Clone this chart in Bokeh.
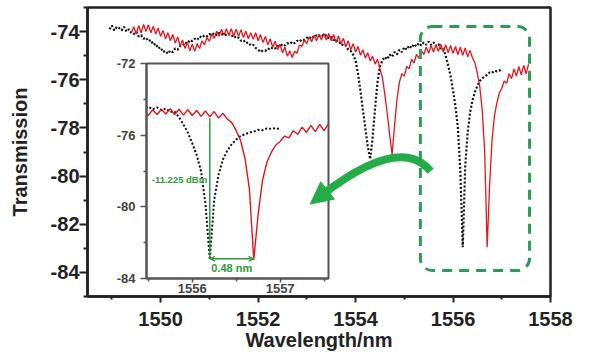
from bokeh.plotting import figure
from bokeh.models import FixedTicker, BoxAnnotation, Arrow, NormalHead, VeeHead, Range1d, Label
from bokeh.embed import file_html
from bokeh.resources import INLINE

# ---------------- data ----------------
step_nm = 0.05
red_start_nm = 1549.40
black_start_nm = 1548.95

red_dbm = [
    -74.05, -73.80, -74.10, -73.75, -74.05, -73.70, -74.00, -73.72, -74.05, -73.78,
    -74.10, -73.85, -74.20, -73.95, -74.30, -74.05, -74.38, -74.12, -74.48, -74.22,
    -74.60, -74.35, -74.70, -74.45, -74.80, -74.52, -74.82, -74.50, -74.70, -74.38,
    -74.55, -74.25, -74.40, -74.10, -74.28, -73.98, -74.20, -73.90, -74.15, -73.88,
    -74.15, -73.88, -74.18, -73.90, -74.20, -73.92, -74.25, -73.98, -74.30, -74.05,
    -74.32, -74.05, -74.38, -74.12, -74.45, -74.20, -74.55, -74.30, -74.65, -74.40,
    -74.75, -74.52, -74.88, -74.65, -75.02, -74.80, -75.08, -74.82, -74.90, -74.55,
    -74.62, -74.35, -74.50, -74.22, -74.42, -74.15, -74.38, -74.10, -74.35, -74.08,
    -74.35, -74.08, -74.38, -74.12, -74.45, -74.18, -74.52, -74.28, -74.62, -74.38,
    -74.75, -74.50, -74.85, -74.62, -74.98, -74.75, -75.10, -74.88, -75.22, -75.02,
    -75.35, -75.15, -75.55, -75.90, -76.60, -77.40, -78.30, -79.10, -77.90, -76.80,
    -76.10, -75.75, -75.85, -75.45, -75.55, -75.15, -75.30, -74.95, -75.10, -74.80,
    -74.95, -74.65, -74.90, -74.58, -74.85, -74.55, -74.82, -74.52, -74.85, -74.55,
    -74.88, -74.58, -74.90, -74.62, -74.95, -74.65, -74.98, -74.68, -75.05, -74.78,
    -75.10, -75.30, -75.75, -76.30, -77.30, -79.00, -82.95, -80.40, -78.50, -77.50,
    -76.95, -76.55, -76.35, -76.05, -76.15, -75.75, -75.95, -75.55, -75.85, -75.45,
    -75.80, -75.40, -75.75, -75.35,
]

black_dbm = [
    -73.90, -73.75, -73.95, -73.80, -73.85, -73.95, -73.80, -74.00, -73.90, -74.05,
    -74.10, -74.00, -74.20, -74.15, -74.30, -74.25, -74.40, -74.35, -74.55, -74.50,
    -74.70, -74.65, -74.85, -74.80, -74.92, -74.78, -74.85, -74.70, -74.75, -74.60,
    -74.60, -74.45, -74.50, -74.35, -74.40, -74.30, -74.35, -74.20, -74.25, -74.15,
    -74.20, -74.10, -74.15, -74.05, -74.15, -74.05, -74.12, -74.08, -74.15, -74.10,
    -74.20, -74.15, -74.28, -74.25, -74.38, -74.35, -74.48, -74.45, -74.58, -74.55,
    -74.68, -74.75, -74.85, -74.78, -74.80, -74.70, -74.75, -74.65, -74.70, -74.60,
    -74.62, -74.52, -74.58, -74.48, -74.52, -74.42, -74.48, -74.38, -74.42, -74.32,
    -74.35, -74.25, -74.30, -74.18, -74.25, -74.15, -74.20, -74.12, -74.22, -74.15,
    -74.28, -74.22, -74.35, -74.32, -74.48, -74.45, -74.60, -74.58, -74.75, -74.80,
    -74.95, -75.20, -75.75, -76.45, -77.25, -78.00, -78.75, -79.30, -78.40, -77.20,
    -76.10, -75.45, -75.20, -75.05, -75.15, -74.95, -75.05, -74.85, -74.95, -74.75,
    -74.85, -74.65, -74.75, -74.58, -74.68, -74.52, -74.62, -74.48, -74.58, -74.45,
    -74.55, -74.42, -74.55, -74.45, -74.60, -74.52, -74.70, -74.68, -75.00, -75.40,
    -75.85, -76.45, -77.10, -78.00, -79.80, -82.95, -79.60, -78.20, -77.35, -76.85,
    -76.50, -76.25, -76.05, -75.95, -75.85, -75.80, -75.70, -75.72, -75.62, -75.65,
    -75.60, -75.68,
]

wl_red = [round(red_start_nm + step_nm * i, 2) for i in range(len(red_dbm))]
wl_black = [round(black_start_nm + step_nm * i, 2) for i in range(len(black_dbm))]

x_major = [1550, 1552, 1554, 1556, 1558]
x_minor = [1549, 1551, 1553, 1555, 1557]
y_major = [-84, -82, -80, -78, -76, -74]
y_minor = [-85, -83, -81, -79, -77, -75, -73]

inset_x_major = [1556, 1557]
inset_x_minor = [1555.5, 1556.5, 1557.5]
inset_y_major = [-84, -80, -76, -72]
inset_y_minor = [-82, -78, -74]

# annotation values
dip_black_nm = 1556.20
dip_red_nm = 1556.70
top_level_dbm = -75.05
bottom_level_dbm = -82.9
depth_text = "-11.225 dBm"
shift_text = "0.48 nm"

# ---------------- styles ----------------
RED = "#e8141c"
BLACK = "#111111"
GREEN_BOX = "#2f9a55"
GREEN_ARROW = "#22ad48"
GREEN_TXT = "#2e9a3e"
FONT = "Liberation Sans"


def hyphen_labels(ticks):
    return {t: ("%g" % t) for t in ticks}


# ---------------- main figure (transparent, drawn on top of the inset) ----------------
p = figure(frame_width=463, frame_height=289,
           x_range=Range1d(1548.5, 1558), y_range=Range1d(-85, -73),
           min_border_left=87, min_border_top=7, min_border_right=24, min_border_bottom=50,
           output_backend="svg", toolbar_location=None,
           background_fill_alpha=0, border_fill_alpha=0)
p.xgrid.visible = False
p.ygrid.visible = False
p.outline_line_color = "#222222"
p.outline_line_width = 2.5

p.xaxis.ticker = FixedTicker(ticks=x_major, minor_ticks=x_minor)
p.yaxis.ticker = FixedTicker(ticks=y_major, minor_ticks=y_minor)
p.yaxis.major_label_overrides = hyphen_labels(y_major)
for ax in (p.xaxis[0], p.yaxis[0]):
    ax.axis_line_color = "#222222"
    ax.axis_line_width = 2.5
    ax.major_tick_line_color = "#222222"
    ax.minor_tick_line_color = "#222222"
    ax.major_tick_line_width = 2
    ax.minor_tick_line_width = 2
    ax.major_tick_in = 0
    ax.minor_tick_in = 0
    ax.major_label_text_font = FONT
    ax.major_label_text_font_style = "bold"
    ax.major_label_text_font_size = "20px"
    ax.major_label_text_color = "#222222"
    ax.axis_label_text_font = FONT
    ax.axis_label_text_font_style = "bold"
    ax.axis_label_text_font_size = "20px"
    ax.axis_label_text_color = "#222222"
p.xaxis.major_tick_out = 6
p.xaxis.minor_tick_out = 3
p.xaxis.major_label_standoff = 9
p.xaxis.axis_label = "Wavelength/nm"
p.xaxis.axis_label_standoff = 0
p.yaxis.major_tick_out = 8
p.yaxis.minor_tick_out = 4
p.yaxis.major_label_standoff = 0
p.yaxis.axis_label = "Transmission"
p.yaxis.axis_label_standoff = 17

p.line(wl_black, black_dbm, line_color=BLACK, line_width=2.2, line_dash="2 2")
p.line(wl_red, red_dbm, line_color=RED, line_width=1.3)

# dashed rounded box around the zoomed region
p.add_layout(BoxAnnotation(left=1555.33, right=1557.57, top=-73.79, bottom=-83.92,
                           fill_alpha=0, line_color=GREEN_BOX, line_alpha=1, line_width=3,
                           line_dash="10 7", border_radius=12))

# curved green arrow pointing to the inset
p.quadratic(x0=[1555.54], y0=[-79.80], x1=[1553.29], y1=[-80.81],
            cx=[1554.93], cy=[-78.25], line_color=GREEN_ARROW, line_width=8)
p.add_layout(Arrow(end=NormalHead(size=22, fill_color=GREEN_ARROW, line_color=GREEN_ARROW),
                   x_start=1553.31, y_start=-80.78, x_end=1553.07, y_end=-81.16,
                   line_alpha=0))
p.styles = {"position": "relative", "z-index": "2"}

# ---------------- inset (separate root, placed under the transparent main plot) ----------------
inset = figure(width=224, height=245,
               x_range=Range1d(1555.48, 1557.55), y_range=Range1d(-84, -72),
               min_border_left=36, min_border_top=8, min_border_right=6, min_border_bottom=22,
               output_backend="svg", toolbar_location=None,
               border_fill_alpha=0, background_fill_color="white")
inset.xgrid.visible = False
inset.ygrid.visible = False
inset.outline_line_color = "#555555"
inset.outline_line_width = 2
inset.xaxis.ticker = FixedTicker(ticks=inset_x_major, minor_ticks=inset_x_minor)
inset.yaxis.ticker = FixedTicker(ticks=inset_y_major, minor_ticks=inset_y_minor)
inset.yaxis.major_label_overrides = hyphen_labels(inset_y_major)
for ax in (inset.xaxis[0], inset.yaxis[0]):
    ax.axis_line_color = "#555555"
    ax.axis_line_width = 2
    ax.major_tick_line_color = "#555555"
    ax.minor_tick_line_color = "#555555"
    ax.major_tick_line_width = 1.5
    ax.minor_tick_line_width = 1.5
    ax.major_tick_in = 0
    ax.minor_tick_in = 0
    ax.major_label_text_font = FONT
    ax.major_label_text_font_style = "bold"
    ax.major_label_text_font_size = "13px"
    ax.major_label_text_color = "#444444"
inset.xaxis.major_tick_out = 4
inset.xaxis.minor_tick_out = 3
inset.xaxis.major_label_standoff = 1
inset.yaxis.major_tick_out = 6
inset.yaxis.minor_tick_out = 3
inset.yaxis.major_label_standoff = 5

inset.line(wl_black, black_dbm, line_color=BLACK, line_width=2, line_dash="2 2")
inset.line(wl_red, red_dbm, line_color=RED, line_width=1.4)

inset.segment(x0=[dip_black_nm], y0=[top_level_dbm], x1=[dip_black_nm], y1=[bottom_level_dbm],
              line_color=GREEN_TXT, line_width=1.5)
inset.add_layout(Arrow(start=VeeHead(size=5, line_color=GREEN_TXT, fill_color=GREEN_TXT),
                       end=VeeHead(size=5, line_color=GREEN_TXT, fill_color=GREEN_TXT),
                       x_start=dip_black_nm, y_start=bottom_level_dbm,
                       x_end=dip_red_nm, y_end=bottom_level_dbm,
                       line_color=GREEN_TXT, line_width=1.5))
inset.add_layout(Label(x=dip_black_nm - 0.03, y=-78.45, text=depth_text,
                       text_align="right", text_baseline="middle",
                       text_font=FONT, text_font_style="bold",
                       text_font_size="9.5px", text_color=GREEN_TXT))
inset.add_layout(Label(x=(dip_black_nm + dip_red_nm) / 2, y=-83.42, text=shift_text,
                       text_align="center", text_baseline="middle",
                       text_font=FONT, text_font_style="bold",
                       text_font_size="11px", text_color=GREEN_TXT))

inset.styles = {"position": "absolute", "left": "110px", "top": "55px", "z-index": "1"}

open("out.html", "w").write(file_html([p, inset], INLINE))
